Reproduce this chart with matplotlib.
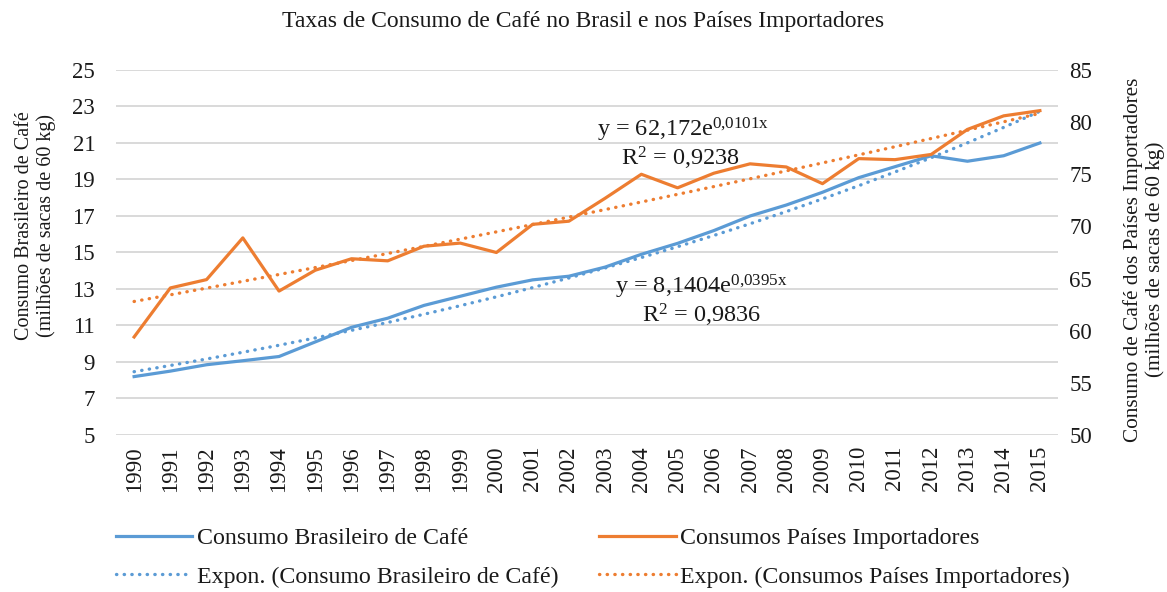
import numpy as np
import matplotlib
matplotlib.use("Agg")
import matplotlib.pyplot as plt

plt.rcParams["font.family"] = ["Liberation Serif", "DejaVu Serif"]
plt.rcParams["mathtext.fontset"] = "custom"
plt.rcParams["mathtext.rm"] = "Liberation Serif"
plt.rcParams["mathtext.it"] = "Liberation Serif"

# data
years = list(range(1990, 2016))
consumo_brasil = [8.2, 8.5, 8.85, 9.07, 9.3, 10.1, 10.9, 11.4, 12.1, 12.6, 13.1, 13.5, 13.7,
                  14.2, 14.9, 15.5, 16.2, 17.0, 17.6, 18.3, 19.1, 19.7, 20.3, 20.0, 20.3, 21.0]
consumo_importadores = [59.4, 64.1, 64.9, 68.9, 63.8, 65.8, 66.9, 66.7, 68.1, 68.4, 67.5, 70.2, 70.5,
                        72.7, 75.0, 73.7, 75.1, 76.0, 75.7, 74.1, 76.5, 76.4, 76.9, 79.3, 80.6, 81.1]

# exponential trend coefficients as printed on the chart
brasil_a, brasil_b = 8.1404, 0.0395
import_a, import_b = 62.172, 0.0101

blue = "#5B9BD5"
orange = "#ED7D31"
grid_c = "#D9D9D9"
txt_c = "#1a1a1a"
dots = (0, (0.1, 2.2))

idx = np.arange(1, len(years) + 1)
trend_brasil = brasil_a * np.exp(brasil_b * idx)
trend_import = import_a * np.exp(import_b * idx)

fig = plt.figure(figsize=(11.67, 5.92), dpi=100)
ax = fig.add_axes([0.0994, 0.2652, 0.8072, 0.6166])
ax2 = ax.twinx()

l1, = ax.plot(years, consumo_brasil, color=blue, lw=2.3, label="Consumo Brasileiro de Café")
t1, = ax.plot(years, trend_brasil, color=blue, lw=2.4, ls=dots, dash_capstyle="round",
              label="Expon. (Consumo Brasileiro de Café)")
l2, = ax2.plot(years, consumo_importadores, color=orange, lw=2.3, label="Consumos Países Importadores")
t2, = ax2.plot(years, trend_import, color=orange, lw=2.4, ls=dots, dash_capstyle="round",
               label="Expon. (Consumos Países Importadores)")

ax.set_xlim(1989.5, 2015.5)
ax.set_ylim(5, 25)
ax2.set_ylim(50, 85)
ax.set_yticks(range(5, 26, 2))
ax2.set_yticks(range(50, 86, 5))
ax.set_xticks(years)
ax.set_xticklabels([str(y) for y in years], rotation=90)

ax.grid(axis="y", color=grid_c, lw=1.4)
ax.set_axisbelow(True)
for a in (ax, ax2):
    for s in a.spines.values():
        s.set_visible(False)
    a.tick_params(length=0, labelsize=16.5, colors=txt_c)
ax.tick_params(axis="y", pad=15)
ax2.tick_params(axis="y", pad=8)
ax.tick_params(axis="x", pad=8, labelsize=16.5)

ax.set_ylabel("Consumo Brasileiro de Café\n(milhões de sacas de 60 kg)", fontsize=14.5, color=txt_c,
              linespacing=1.15)
ax.yaxis.set_label_coords(-0.064, 0.575)
ax2.set_ylabel("Consumo de Café dos Países Importadores\n(milhões de sacas de 60 kg)", fontsize=15.3,
               color=txt_c, rotation=90, linespacing=1.15)
ax2.yaxis.set_label_coords(1.069, 0.48)

fig.text(0.5, 1 - 22 / 592, "Taxas de Consumo de Café no Brasil e nos Países Importadores",
         fontsize=17, ha="center", va="center", color=txt_c)

# trend equations
ax2.text(2005.15, 79.25, r"y = 62,172e$^{\mathrm{0{,}0101x}}$", fontsize=17.5, ha="center", va="center", color=txt_c)
ax2.text(2005.07, 76.56, r"R$^{\mathrm{2}}$ = 0,9238", fontsize=17.5, ha="center", va="center", color=txt_c)
ax.text(2005.65, 13.1, r"y = 8,1404e$^{\mathrm{0{,}0395x}}$", fontsize=17.5, ha="center", va="center", color=txt_c)
ax.text(2005.65, 11.58, r"R$^{\mathrm{2}}$ = 0,9836", fontsize=17.5, ha="center", va="center", color=txt_c)

fig.legend(handles=[l1, t1, l2, t2], ncol=2, loc="center", bbox_to_anchor=(0.508, 0.058),
           frameon=False, fontsize=17.2, handlelength=3.2, handletextpad=0.2,
           columnspacing=1.7, labelspacing=0.7, labelcolor=txt_c)

fig.savefig("out.png", dpi=100)
